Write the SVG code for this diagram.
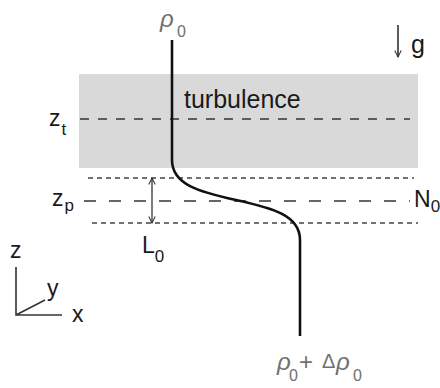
<svg xmlns="http://www.w3.org/2000/svg" width="440" height="388" viewBox="0 0 440 388">
  <defs>
    <style>
      .lbl { font-family: "Liberation Sans", Arial, sans-serif; fill: #1a1a1a; }
      .sym { font-family: "Liberation Sans", Arial, sans-serif; font-style: italic; fill: #707070; }
      .sub { font-family: "Liberation Sans", Arial, sans-serif; fill: #707070; }
      .ln { stroke: #333; fill: none; }
      .dot { stroke: #444; stroke-width: 1.6; stroke-dasharray: 5 4; fill: none; }
      .dashA { stroke: #333; stroke-width: 1.6; stroke-dasharray: 9 9; fill: none; }
      .dashB { stroke: #333; stroke-width: 1.6; stroke-dasharray: 12 13; fill: none; }
    </style>
    <marker id="vhead" viewBox="0 0 10 10" refX="9" refY="5" markerWidth="8" markerHeight="8" orient="auto-start-reverse" markerUnits="userSpaceOnUse">
      <path d="M1,1 L9,5 L1,9" fill="none" stroke="#333" stroke-width="1.3"/>
    </marker>
  </defs>
  <rect width="440" height="388" fill="#ffffff"/>

  <g id="turbulence-layer">
    <rect x="79" y="74" width="339" height="94" fill="#d9d9d9"/>
    <text class="lbl" x="184" y="108" font-size="25">turbulence</text>
  </g>

  <g id="levels">
    <line class="dashA" x1="80" y1="119" x2="410" y2="119"/>
    <line class="dot" x1="88" y1="178" x2="414" y2="178"/>
    <line class="dashB" x1="84" y1="201" x2="410" y2="201"/>
    <line class="dot" x1="92" y1="223" x2="418" y2="223"/>
  </g>

  <g id="labels">
    <text class="lbl" x="49" y="126" font-size="23">z<tspan font-size="17" dx="1" dy="9">t</tspan></text>
    <text class="lbl" x="52" y="206" font-size="23">z<tspan font-size="17" dx="1" dy="5">p</tspan></text>
    <text class="lbl" x="414" y="207" font-size="23">N<tspan font-size="17" dy="5">0</tspan></text>
    <text class="lbl" x="142" y="253" font-size="23">L<tspan font-size="17" dy="9">0</tspan></text>
  </g>

  <g id="density-profile">
    <path d="M172,40 L172,160 C172,185 200,192 236,200 C272,208 300,215 300,240 L300,336" fill="none" stroke="#111" stroke-width="2.6"/>
    <text class="sym" x="160" y="27" font-size="24">ρ</text>
    <text class="sub" x="177" y="37" font-size="16">0</text>
    <g id="bottom-label">
      <text class="sym" x="277" y="370" font-size="24">ρ</text>
      <text class="sub" x="289" y="381" font-size="16">0</text>
      <text class="sub" x="299" y="370" font-size="24">+</text>
      <text class="sub" x="322" y="368" font-size="20">Δ</text>
      <text class="sym" x="336" y="370" font-size="24">ρ</text>
      <text class="sub" x="353" y="381" font-size="16">0</text>
    </g>
  </g>

  <g id="connectors">
    <line class="ln" x1="152" y1="178" x2="152" y2="223" stroke-width="1.3" marker-start="url(#vhead)" marker-end="url(#vhead)"/>
    <line class="ln" x1="398" y1="25" x2="398" y2="57" stroke-width="1.6" marker-end="url(#vhead)"/>
  </g>

  <g id="gravity">
    <text class="lbl" x="411" y="53" font-size="25">g</text>
  </g>

  <g id="axes">
    <path class="ln" d="M16,267 L16,315 L62,315 M16,315 L45,300" stroke-width="1.6"/>
    <text class="lbl" x="10" y="258" font-size="23">z</text>
    <text class="lbl" x="47" y="296" font-size="23">y</text>
    <text class="lbl" x="72" y="322" font-size="23">x</text>
  </g>
</svg>
